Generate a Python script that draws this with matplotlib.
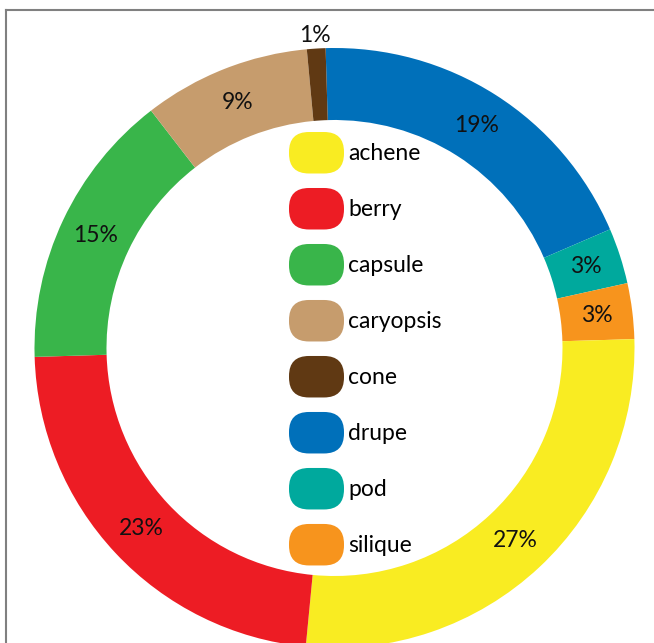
import matplotlib
matplotlib.use("Agg")
import matplotlib.pyplot as plt
from matplotlib.patches import FancyBboxPatch
from matplotlib.legend_handler import HandlerPatch
from matplotlib.lines import Line2D

plt.rcParams['font.family'] = ['Lato', 'DejaVu Sans']

# fruit types, in the order they go round the ring (clockwise from the top)
fruits = ['drupe', 'pod', 'silique', 'achene', 'berry', 'capsule', 'caryopsis', 'cone']
shares = [19, 3, 3, 27, 23, 15, 9, 1]
colors = {
    'achene': '#F9EC22',
    'berry': '#ED1C24',
    'capsule': '#39B54A',
    'caryopsis': '#C69C6D',
    'cone': '#603913',
    'drupe': '#0070BA',
    'pod': '#00A99D',
    'silique': '#F7941D',
}
# legend goes alphabetically
legend_order = ['achene', 'berry', 'capsule', 'caryopsis', 'cone', 'drupe', 'pod', 'silique']


class HandlerPill(HandlerPatch):
    # rounded "pill" swatch for the legend
    def create_artists(self, legend, orig_handle, xdescent, ydescent,
                       width, height, fontsize, trans):
        p = FancyBboxPatch((-xdescent, -ydescent), width, height,
                           boxstyle="round,pad=0,rounding_size=%f" % (height * 0.48),
                           facecolor=orig_handle.get_facecolor(), edgecolor='none',
                           transform=trans)
        return [p]


W, H = 654, 643
fig = plt.figure(figsize=(W / 100, H / 100), dpi=100)
ax = fig.add_axes([0, 0, 1, 1])

R = 300.0  # ring radius in pixels
cx, cy = 334.5, 348.0  # centre, pixels from top-left

fs = 16.5
wedges, texts, autotexts = ax.pie(
    shares, colors=[colors[f] for f in fruits], startangle=91.7,
    counterclock=False, autopct='%d%%', pctdistance=0.88,
    wedgeprops=dict(width=0.24, linewidth=0),
    textprops=dict(fontsize=fs, color='#111111'))

# the tiny cone slice gets its label outside the ring
x, y = autotexts[-1].get_position()
autotexts[-1].set_position((x * 1.045 / 0.88, y * 1.045 / 0.88))

ax.set_xlim(-cx / R, (W - cx) / R)
ax.set_ylim(-(H - cy) / R, cy / R)
ax.set_aspect('auto')
ax.axis('off')

handles = [FancyBboxPatch((0, 0), 1, 1, facecolor=colors[f]) for f in legend_order]
fpx = fs * 100 / 72
ax.legend(handles, legend_order, handler_map={FancyBboxPatch: HandlerPill()},
          loc='upper left', bbox_to_anchor=(289 / W, 1 - 132 / H),
          bbox_transform=fig.transFigure, frameon=False, fontsize=fs,
          borderpad=0, borderaxespad=0,
          handlelength=55 / fpx, handleheight=40 / fpx * 1.38,
          handletextpad=4 / fpx, labelspacing=14.5 / fpx)

# thin frame lines at top and left
fig.add_artist(Line2D([6 / W, 1], [1 - 10 / H, 1 - 10 / H], color='#808080', lw=1.5,
                      transform=fig.transFigure))
fig.add_artist(Line2D([6 / W, 6 / W], [0, 1 - 10 / H], color='#808080', lw=1.5,
                      transform=fig.transFigure))

fig.savefig('out.png', dpi=100)
